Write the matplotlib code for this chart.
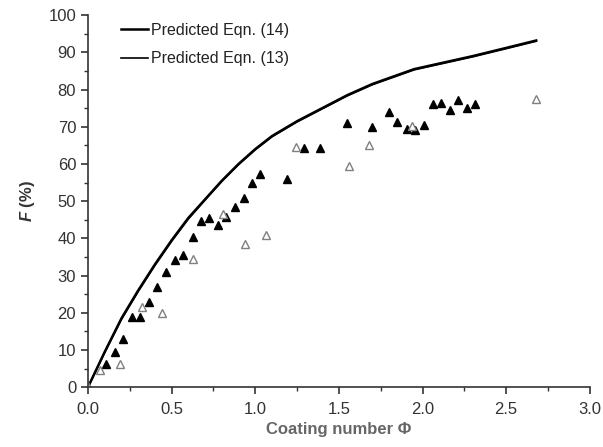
import numpy as np
import matplotlib.pyplot as plt
from matplotlib.ticker import MultipleLocator

plt.rcParams['font.family'] = ['Liberation Sans', 'DejaVu Sans']
plt.rcParams['mathtext.fontset'] = 'custom'
plt.rcParams['mathtext.it'] = 'Liberation Sans:bold:italic'

# predicted curves
phi_pred = [0.0, 0.1, 0.2, 0.3, 0.4, 0.5, 0.6, 0.7, 0.8, 0.9, 1.0, 1.1,
            1.25, 1.4, 1.55, 1.7, 1.95, 2.1, 2.3, 2.5, 2.68]
f_eq14 = [0.0, 9.5, 18.5, 26.0, 33.0, 39.5, 45.5, 50.5, 55.5, 60.0, 64.0, 67.5,
          71.5, 75.0, 78.5, 81.5, 85.5, 87.0, 89.0, 91.2, 93.2]
f_eq13 = [0.0, 9.3, 18.2, 25.7, 32.7, 39.2, 45.2, 50.3, 55.3, 59.8, 63.8, 67.3,
          71.3, 74.8, 78.3, 81.3, 85.3, 86.8, 88.8, 91.0, 93.0]

# measured, filled triangles
phi_fill = [0.11, 0.16, 0.21, 0.26, 0.31, 0.365, 0.415, 0.465, 0.52, 0.57,
            0.625, 0.675, 0.725, 0.775, 0.825, 0.88, 0.93, 0.98, 1.03, 1.19,
            1.29, 1.39, 1.55, 1.70, 1.80, 1.85, 1.905, 1.955, 2.01, 2.06,
            2.11, 2.165, 2.215, 2.265, 2.315]
f_fill = [6.3, 9.5, 13.0, 18.8, 18.8, 23.0, 27.0, 31.0, 34.3, 35.4,
          40.4, 44.7, 45.4, 43.7, 45.8, 48.5, 50.8, 54.8, 57.4, 55.9,
          64.2, 64.4, 70.9, 69.9, 73.9, 71.2, 69.5, 69.1, 70.4, 76.0,
          76.5, 74.4, 77.2, 75.1, 76.0]

# measured, open triangles
phi_open = [0.0, 0.07, 0.19, 0.32, 0.44, 0.63, 0.81, 0.94, 1.065, 1.245,
            1.56, 1.68, 1.935, 2.68]
f_open = [0.3, 4.6, 6.3, 21.5, 19.8, 34.4, 46.6, 38.5, 40.8, 64.6,
          59.4, 65.1, 70.2, 77.6]

fig = plt.figure(figsize=(6.03, 4.47), dpi=100)
ax = fig.add_axes([0.146, 0.134, 0.832, 0.832])

ax.plot(phi_pred, f_eq14, color='black', lw=1.8, label='Predicted Eqn. (14)')
ax.plot(phi_pred, f_eq13, color='black', lw=1.2, label='Predicted Eqn. (13)')
ax.plot(phi_fill, f_fill, '^', color='black', ms=6, ls='none')
ax.plot(phi_open, f_open, '^', mfc='white', mec='#808080', mew=1.0, ms=6, ls='none')

ax.set_xlim(0, 3.0)
ax.set_ylim(0, 100)
ax.xaxis.set_major_locator(MultipleLocator(0.5))
ax.xaxis.set_minor_locator(MultipleLocator(0.25))
ax.yaxis.set_major_locator(MultipleLocator(10))
ax.yaxis.set_minor_locator(MultipleLocator(5))
ax.xaxis.set_major_formatter(plt.FuncFormatter(lambda v, p: f"{v:.1f}"))

for s in ['top', 'right']:
    ax.spines[s].set_visible(False)
for s in ['left', 'bottom']:
    ax.spines[s].set_color('#333333')
    ax.spines[s].set_linewidth(1.2)
ax.tick_params(which='major', direction='out', length=5, width=1.2,
               color='#333333', labelsize=12, labelcolor='#333333')
ax.tick_params(axis='x', which='major', pad=6)
ax.tick_params(which='minor', direction='out', length=3, width=1.0, color='#333333')

ax.set_xlabel('Coating number \u03a6', fontsize=12, fontweight='bold', color='#666666', labelpad=3)
ax.set_ylabel('$F$ (%)', fontsize=12, fontweight='bold', color='#333333', labelpad=8)

leg = ax.legend(loc='upper left', frameon=False, fontsize=11.5, handlelength=1.7,
                handletextpad=0.2, labelspacing=0.85, bbox_to_anchor=(0.037, 1.018))
for t in leg.get_texts():
    t.set_color('#222222')

fig.savefig('out.png', dpi=100)
